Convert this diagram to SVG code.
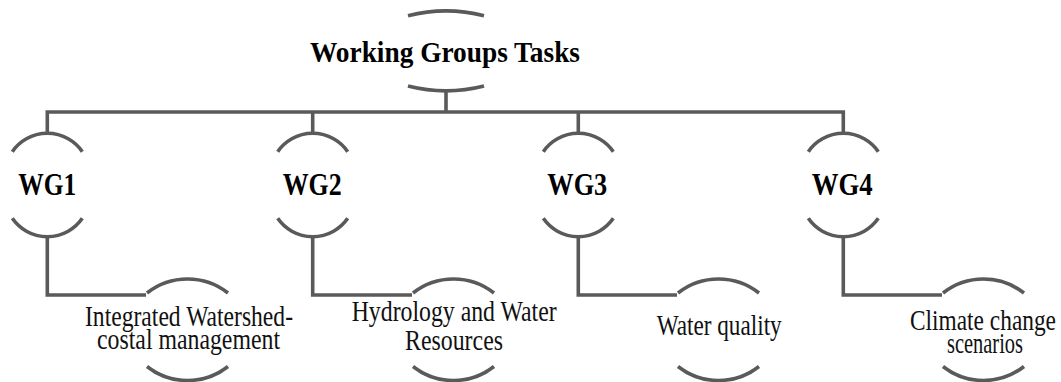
<svg xmlns="http://www.w3.org/2000/svg" width="1061" height="382" viewBox="0 0 1061 382">
  <style>
    .bg { fill: #ffffff; }
    .line { fill: none; stroke: #5a5a5a; stroke-width: 3.6; stroke-linecap: butt; stroke-linejoin: miter; }
    .arc { fill: none; stroke: #5a5a5a; stroke-width: 3.6; stroke-linecap: butt; }
    .title { font-family: "Liberation Serif", "Times New Roman", serif; font-weight: bold; font-size: 30px; fill: #000; }
    .wg { font-family: "Liberation Serif", "Times New Roman", serif; font-weight: bold; font-size: 31px; fill: #000; }
    .task { font-family: "Liberation Serif", "Times New Roman", serif; font-size: 29px; fill: #111; }
  </style>
  <rect class="bg" x="0" y="0" width="1061" height="382"/>

  <g id="connectors">
    <path class="line" d="M446 90 V112"/>
    <path class="line" d="M47.3 133.5 V112 H843.3 V133.5"/>
    <path class="line" d="M312.7 112 V133.5"/>
    <path class="line" d="M578.3 112 V133.5"/>
    <path class="line" d="M47.3 236.5 V295 H146"/>
    <path class="line" d="M312.7 236.5 V295 H412"/>
    <path class="line" d="M578.3 236.5 V295 H677"/>
    <path class="line" d="M843.3 236.5 V295 H942"/>
  </g>

  <g id="node-title">
    <path class="arc" d="M408 15.7 A153 153 0 0 1 484 15.7"/>
    <path class="arc" d="M408 86 A153 153 0 0 0 484 86"/>
    <text class="title" x="310" y="62" textLength="270" lengthAdjust="spacingAndGlyphs">Working Groups Tasks</text>
  </g>

  <g id="node-wg1">
    <path class="arc" d="M12.3 151.7 A42.5 42.5 0 0 1 82.3 151.7"/>
    <path class="arc" d="M12.3 218.3 A42.5 42.5 0 0 0 82.3 218.3"/>
    <text class="wg" x="18.3" y="195" textLength="58" lengthAdjust="spacingAndGlyphs">WG1</text>
  </g>
  <g id="node-wg2">
    <path class="arc" d="M277.7 151.7 A42.5 42.5 0 0 1 347.7 151.7"/>
    <path class="arc" d="M277.7 218.3 A42.5 42.5 0 0 0 347.7 218.3"/>
    <text class="wg" x="282.7" y="195" textLength="59" lengthAdjust="spacingAndGlyphs">WG2</text>
  </g>
  <g id="node-wg3">
    <path class="arc" d="M543.3 151.7 A42.5 42.5 0 0 1 613.3 151.7"/>
    <path class="arc" d="M543.3 218.3 A42.5 42.5 0 0 0 613.3 218.3"/>
    <text class="wg" x="547.3" y="195" textLength="60" lengthAdjust="spacingAndGlyphs">WG3</text>
  </g>
  <g id="node-wg4">
    <path class="arc" d="M808.3 151.7 A42.5 42.5 0 0 1 878.3 151.7"/>
    <path class="arc" d="M808.3 218.3 A42.5 42.5 0 0 0 878.3 218.3"/>
    <text class="wg" x="811.7" y="195" textLength="61" lengthAdjust="spacingAndGlyphs">WG4</text>
  </g>

  <g id="node-task1">
    <path class="arc" d="M147 293 A65.6 65.6 0 0 1 228 293"/>
    <path class="arc" d="M147 366.5 A65.6 65.6 0 0 0 228 366.5"/>
    <text class="task" x="85" y="326" textLength="208" lengthAdjust="spacingAndGlyphs">Integrated Watershed-</text>
    <text class="task" x="97" y="349" textLength="183" lengthAdjust="spacingAndGlyphs">costal management</text>
  </g>
  <g id="node-task2">
    <path class="arc" d="M413 293 A65.6 65.6 0 0 1 494 293"/>
    <path class="arc" d="M413 366.5 A65.6 65.6 0 0 0 494 366.5"/>
    <text class="task" x="351.7" y="321" textLength="205" lengthAdjust="spacingAndGlyphs">Hydrology and Water</text>
    <text class="task" x="405" y="350" textLength="98" lengthAdjust="spacingAndGlyphs">Resources</text>
  </g>
  <g id="node-task3">
    <path class="arc" d="M678 293 A65.6 65.6 0 0 1 759 293"/>
    <path class="arc" d="M678 366.5 A65.6 65.6 0 0 0 759 366.5"/>
    <text class="task" x="656.7" y="335" textLength="125" lengthAdjust="spacingAndGlyphs">Water quality</text>
  </g>
  <g id="node-task4">
    <path class="arc" d="M943 293 A65.6 65.6 0 0 1 1024 293"/>
    <path class="arc" d="M943 366.5 A65.6 65.6 0 0 0 1024 366.5"/>
    <text class="task" x="910" y="329.5" textLength="146" lengthAdjust="spacingAndGlyphs">Climate change</text>
    <text class="task" x="947" y="352.5" textLength="76" lengthAdjust="spacingAndGlyphs">scenarios</text>
  </g>
</svg>
